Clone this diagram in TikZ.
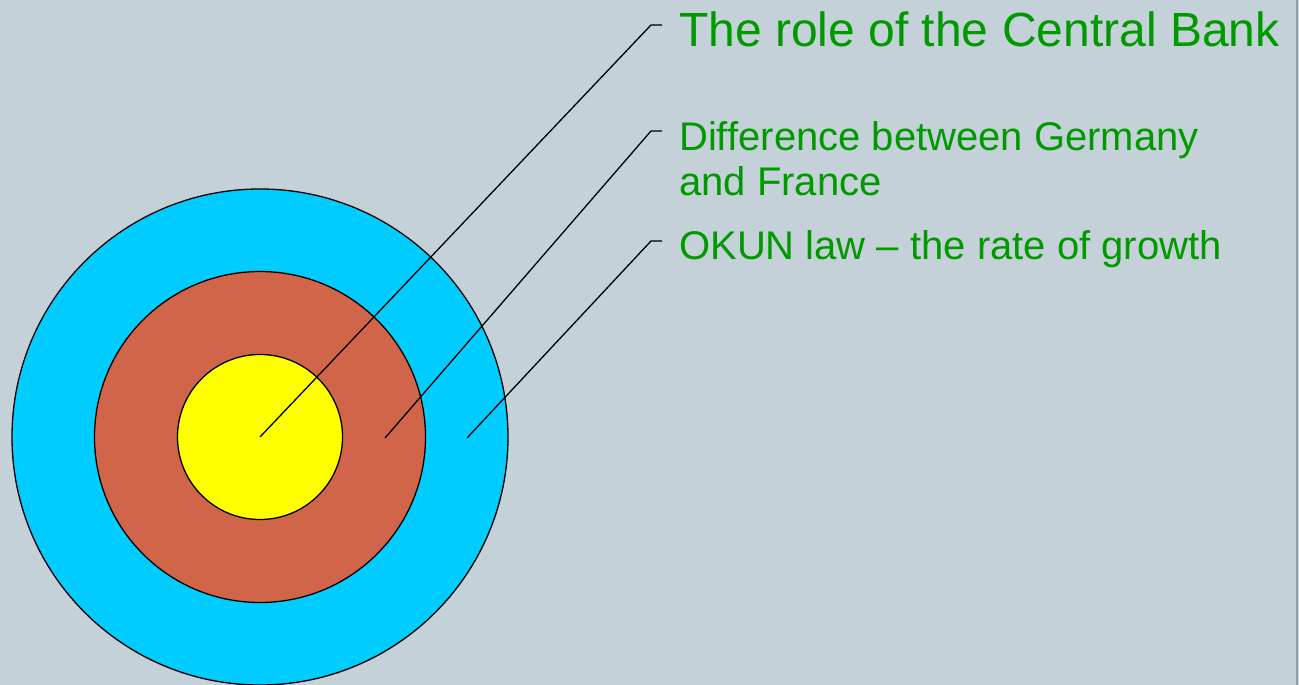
\documentclass[tikz,border=0pt]{standalone}
\usepackage{fontspec}
\setmainfont{Liberation Sans}
\definecolor{bg}{RGB}{197,209,216}
\definecolor{ringcyan}{RGB}{0,204,255}
\definecolor{ringbrown}{RGB}{209,101,74}
\definecolor{ringyellow}{RGB}{255,255,0}
\definecolor{labelgreen}{RGB}{0,153,0}
\definecolor{edgegray}{RGB}{140,158,166}
\tikzset{
  ring/.style={circle, draw=black, line width=1.3pt, inner sep=0pt},
  leader/.style={draw=black, line width=1.3pt},
  lbl/.style={anchor=base west, inner sep=0pt, text=labelgreen, align=left},
}
\begin{document}
\begin{tikzpicture}[x=1pt, y=-1pt]
\fill[bg] (0,0) rectangle (1299,685);
\useasboundingbox (0,0) rectangle (1299,685);
\draw[edgegray, line width=1.5pt] (1297,0) -- (1297,685);
\node[ring, fill=ringcyan, minimum size=496pt] (outer) at (260,437) {};
\node[ring, fill=ringbrown, minimum size=331pt] (middle) at (260,437) {};
\node[ring, fill=ringyellow, minimum size=165pt] (inner) at (260,437) {};
\coordinate (p1) at (260,437);
\coordinate (p2) at (385,438);
\coordinate (p3) at (467,438);
\coordinate (c1) at (651,25);
\coordinate (e1) at (662,25);
\coordinate (c2) at (651,131);
\coordinate (e2) at (662,131);
\coordinate (c3) at (651,241);
\coordinate (e3) at (662,241);
\draw[leader] (p1) -- (c1) -- (e1);
\draw[leader] (p2) -- (c2) -- (e2);
\draw[leader] (p3) -- (c3) -- (e3);
\node[lbl, font=\fontsize{48}{55}\selectfont] (t1) at (679,47) {The role of the Central Bank};
\node[lbl, font=\fontsize{40}{45}\selectfont] (t2) at (679,195) {Difference between Germany\\and France};
\node[lbl, font=\fontsize{40}{45}\selectfont] (t3) at (679,259) {OKUN law -- the rate of growth};
\end{tikzpicture}
\end{document}
